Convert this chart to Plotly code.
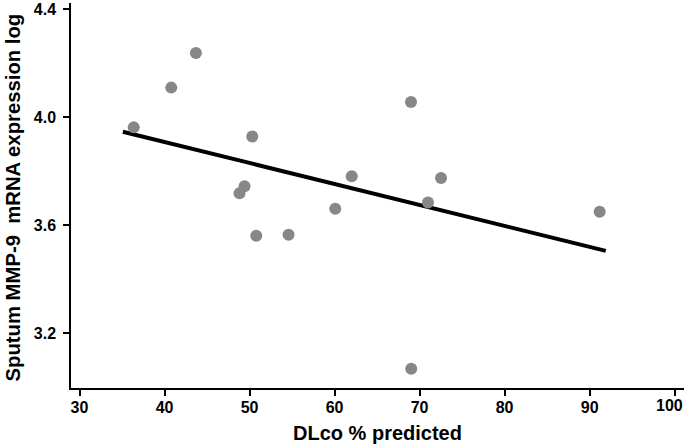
import plotly.graph_objects as go

dlco = [43.69, 40.79, 36.38, 50.32, 68.99, 62.02, 72.52, 49.41, 48.82, 60.08, 70.99, 91.18, 50.79, 54.59, 69.02]
mmp9 = [4.237, 4.109, 3.962, 3.928, 4.056, 3.781, 3.775, 3.744, 3.718, 3.661, 3.684, 3.650, 3.561, 3.565, 3.069]
fit_x = [35.1, 91.9]
fit_y = [3.946, 3.505]
x_ticks = [30, 40, 50, 60, 70, 80, 90, 100]
x_tick_labels = ["30", "40", "50", "60", "70", "80", "90", "100"]
y_ticks = [3.2, 3.6, 4.0, 4.4]
y_tick_labels = ["3.2", "3.6", "4.0", "4.4"]
x_title = "DLco % predicted"
y_title = "Sputum MMP-9\u00a0 mRNA expression log"

font_family = "Liberation Sans, Arial, Helvetica, sans-serif"
tick_font = dict(size=16, weight="bold", family=font_family, color="black")

fig = go.Figure()
fig.add_trace(go.Scatter(x=fit_x, y=fit_y, mode="lines",
                         line=dict(color="black", width=4), showlegend=False))
fig.add_trace(go.Scatter(x=dlco, y=mmp9, mode="markers",
                         marker=dict(color="#878787", size=12, line=dict(width=0)),
                         showlegend=False))

fig.update_layout(
    width=685, height=447,
    margin=dict(l=71, r=1, t=3, b=59, autoexpand=False),
    plot_bgcolor="white", paper_bgcolor="white",
    font=dict(family=font_family, color="black"),
)
# the last tick label (100) sits against the right edge, so it is drawn as a right-anchored annotation
fig.update_xaxes(
    range=[29, 101.1], tickvals=x_ticks, ticktext=x_tick_labels[:-1] + [""],
    showgrid=False, zeroline=False, showline=True, linecolor="black", linewidth=1.5,
    ticks="outside", ticklen=6, tickwidth=1.5, tickcolor="black",
    tickfont=tick_font, ticklabelstandoff=-2,
    title=dict(text=x_title, font=dict(size=20, weight="bold", family=font_family), standoff=11),
    automargin=False,
)
fig.add_annotation(
    text=x_tick_labels[-1], xref="paper", yref="paper",
    x=(684 - 71) / 613, y=(388 - 405.5) / 385, xanchor="right", yanchor="middle",
    showarrow=False, borderpad=0, font=tick_font,
)
fig.update_yaxes(
    range=[2.998, 4.422], tickvals=y_ticks, ticktext=y_tick_labels,
    showgrid=False, zeroline=False, showline=True, linecolor="black", linewidth=1.5,
    ticks="outside", ticklen=6, tickwidth=1.5, tickcolor="black",
    tickfont=tick_font,
    ticklabelstandoff=4,
    automargin=False,
)
fig.add_annotation(
    text=y_title, textangle=-90, xref="paper", yref="paper",
    x=(12 - 71) / 613, y=(388 - 197.5) / 385, xanchor="center", yanchor="middle",
    showarrow=False, font=dict(size=20.3, weight="bold", family=font_family, color="black"),
)

fig.write_html("out.html", config={"displayModeBar": False},
               post_script="document.body.style.margin='0';document.body.style.padding='0';")
